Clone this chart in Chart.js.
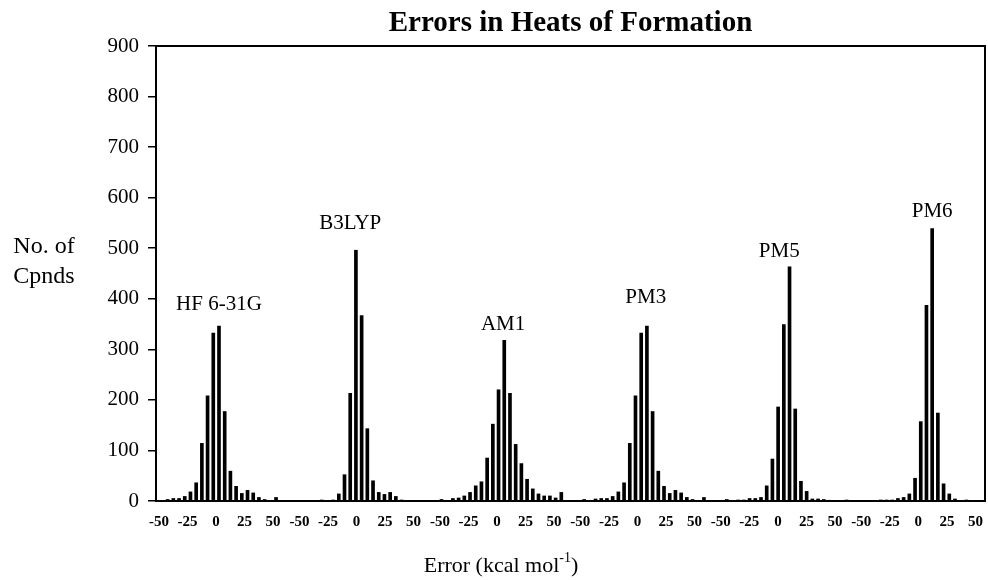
<!DOCTYPE html>
<html>
<head>
<meta charset="utf-8">
<title>Errors in Heats of Formation</title>
<script src="https://cdn.jsdelivr.net/npm/chart.js@4.4.1/dist/chart.umd.min.js"></script>
<style>
    html, body { margin: 0; padding: 0; background: #fff; }
    #chart { display: block; }
</style>
</head>
<body>
<canvas id="chart" width="988" height="580"></canvas>
<script>
"use strict";

// error bins in kcal/mol (bin centres), one count per bin for each method
var errorBins = [-50, -45, -40, -35, -30, -25, -20, -15, -10, -5, 0, 5, 10, 15, 20, 25, 30, 35, 40, 45, 50, 55];
var methods = ["HF 6-31G", "B3LYP", "AM1", "PM3", "PM5", "PM6"];

var hfCounts    = [0, 0, 3, 5, 5, 9, 18, 36, 114, 208, 332, 346, 177, 59, 29, 15, 21, 16, 7, 3, 0, 7];
var b3lypCounts = [0, 0, 0, 0, 2, 0, 2, 14, 52, 213, 496, 367, 143, 40, 17, 13, 17, 9, 2, 0, 0, 0];
var am1Counts   = [3, 0, 5, 6, 10, 17, 30, 38, 85, 152, 220, 318, 213, 112, 74, 43, 24, 14, 10, 10, 6, 17];
var pm3Counts   = [3, 0, 4, 5, 5, 9, 18, 36, 114, 208, 332, 346, 177, 59, 29, 15, 21, 16, 7, 3, 0, 7];
var pm5Counts   = [3, 0, 2, 2, 5, 5, 7, 30, 83, 186, 349, 463, 182, 39, 19, 4, 4, 3, 1, 0, 0, 2];
var pm6Counts   = [0, 0, 2, 2, 2, 5, 7, 14, 45, 157, 387, 539, 174, 34, 14, 4, 0, 2, 0, 0, 0, 0];

var xTickLabels = ["-50", "-25", "0", "25", "50"];
var xTickValues = [-50, -25, 0, 25, 50];

// layout: each method gets its own stretch of the one x axis
var GROUP_SPAN = 125;
var LABEL_SPAN = 123.1;
var LABEL_SHIFT = 2.4;
var FONT = "'Liberation Serif', 'Times New Roman', serif";
// where the method names sit: [error offset, count]
var nameSpots = [[5, 388], [-5, 549], [4, 349], [4, 403], [-4, 493], [5, 573]];

var countsByMethod = [hfCounts, b3lypCounts, am1Counts, pm3Counts, pm5Counts, pm6Counts];

var datasets = methods.map(function(name, g)
{
    var points = [];
    countsByMethod[g].forEach(function(count, i)
    {
        if (count > 0)
        {
            points.push({ x: g * GROUP_SPAN + errorBins[i], y: count });
        }
    });
    return {
        label: name,
        data: points,
        backgroundColor: "#000",
        borderWidth: 0,
        barThickness: 3,
        grouped: false,
    };
});

var tickPositions = [];
methods.forEach(function(name, g)
{
    xTickValues.forEach(function(v)
    {
        tickPositions.push(g * LABEL_SPAN + LABEL_SHIFT + v);
    });
});

var decorations =
{
    id: "decorations",
    afterDraw: function(chart)
    {
        var ctx = chart.ctx;
        var area = chart.chartArea;
        var xs = chart.scales.x;
        var ys = chart.scales.y;
        ctx.save();

        // top and right side of the frame
        ctx.strokeStyle = "#000";
        ctx.lineWidth = 2;
        ctx.beginPath();
        ctx.moveTo(area.left, area.top);
        ctx.lineTo(area.right, area.top);
        ctx.lineTo(area.right, area.bottom);
        ctx.stroke();

        ctx.fillStyle = "#000";
        ctx.textAlign = "center";
        ctx.textBaseline = "middle";
        ctx.font = "21px " + FONT;
        methods.forEach(function(name, g)
        {
            var spot = nameSpots[g];
            ctx.fillText(name, xs.getPixelForValue(g * GROUP_SPAN + spot[0]), ys.getPixelForValue(spot[1]));
        });

        // y title, horizontal on two lines
        ctx.font = "24px " + FONT;
        ctx.fillText("No. of", 44, 247);
        ctx.fillText("Cpnds", 44, 277);

        // x title with superscript
        var main = "Error (kcal mol";
        var sup = "-1";
        var tail = ")";
        ctx.textAlign = "left";
        ctx.textBaseline = "alphabetic";
        ctx.font = "22px " + FONT;
        var wMain = ctx.measureText(main).width;
        var wTail = ctx.measureText(tail).width;
        ctx.font = "14px " + FONT;
        var wSup = ctx.measureText(sup).width;
        var x0 = 501 - (wMain + wSup + wTail) / 2;
        ctx.font = "22px " + FONT;
        ctx.fillText(main, x0, 572);
        ctx.font = "14px " + FONT;
        ctx.fillText(sup, x0 + wMain, 562);
        ctx.font = "22px " + FONT;
        ctx.fillText(tail, x0 + wMain + wSup, 572);

        ctx.restore();
    }
};

var ctx = document.getElementById("chart").getContext("2d");
var chart = new Chart(ctx,
{
    type: "bar",
    data: { datasets: datasets },
    options:
    {
        responsive: false,
        animation: false,
        layout: { padding: { top: 0, right: 3, bottom: 0, left: 0 } },
        plugins:
        {
            legend: { display: false },
            tooltip: { enabled: false },
            title:
            {
                display: true,
                text: "Errors in Heats of Formation",
                fullSize: false,
                color: "#000",
                font: { family: FONT, size: 29, weight: "bold" },
                padding: { top: 6.6, bottom: 4.6 },
            },
        },
        scales:
        {
            x:
            {
                type: "linear",
                offset: false,
                min: -50.2,
                max: 676.3,
                afterBuildTicks: function(scale)
                {
                    scale.ticks = tickPositions.map(function(v) { return { value: v }; });
                },
                afterFit: function(scale)
                {
                    scale.height = 79;
                    scale.paddingLeft = 0;
                    scale.paddingRight = 0;
                },
                ticks:
                {
                    autoSkip: false,
                    maxRotation: 0,
                    padding: 12,
                    color: "#000",
                    font: { family: FONT, size: 15, weight: "bold" },
                    callback: function(value, index)
                    {
                        return xTickLabels[index % xTickLabels.length];
                    },
                },
                grid: { display: false, drawTicks: false, offset: false },
                border: { display: true, color: "#000", width: 2 },
            },
            y:
            {
                min: 0,
                max: 900,
                afterFit: function(scale)
                {
                    scale.width = 156;
                    scale.paddingTop = 0;
                    scale.paddingBottom = 0;
                },
                ticks:
                {
                    stepSize: 100,
                    padding: 9,
                    color: "#000",
                    font: { family: FONT, size: 21 },
                },
                grid: { drawOnChartArea: false, drawTicks: true, tickLength: 8, color: "#000", lineWidth: 1.5 },
                border: { display: true, color: "#000", width: 2 },
            },
        },
    },
    plugins: [decorations],
});
</script>
</body>
</html>
